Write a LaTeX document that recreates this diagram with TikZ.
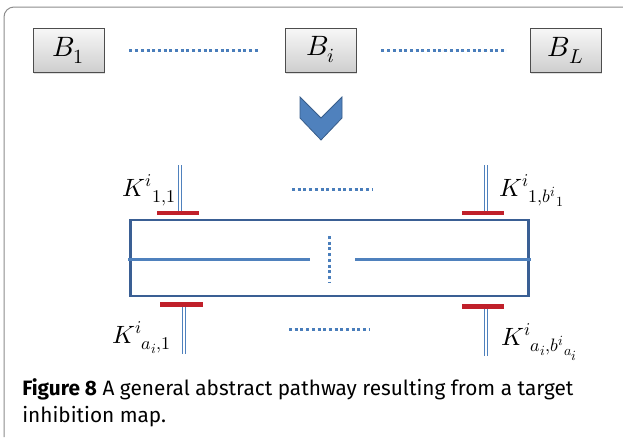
\documentclass[tikz,border=0pt]{standalone}
\usepackage{fontspec}
\usepackage{unicode-math}
\setmathfont{Latin Modern Math}
\setsansfont{Fira Sans}
\usetikzlibrary{shadows}
\DeclareMathSizes{28}{28}{20}{15}
\DeclareMathSizes{25}{25}{18}{14}
\definecolor{framegray}{HTML}{8C8C8C}
\definecolor{boxgray}{HTML}{4D4D4D}
\definecolor{dotblue}{HTML}{4A7EBB}
\definecolor{lineblue}{HTML}{4F81BD}
\definecolor{rectblue}{HTML}{3A5F94}
\definecolor{inhred}{HTML}{C0202A}
\definecolor{chevedge}{HTML}{385D8A}
\begin{document}
\begin{tikzpicture}[x=1pt,y=-1pt,line width=0.6pt,
  bbox/.style={draw=boxgray,line width=0.8pt,top color=gray!6,bottom color=gray!38,
    minimum width=71pt,minimum height=44pt,inner sep=0pt,
    font=\fontsize{28}{30}\selectfont,
    drop shadow={shadow xshift=1.2pt,shadow yshift=-1.5pt,opacity=0.25}},
  dots/.style={draw=dotblue,line width=3pt,dash pattern=on 3pt off 2.7pt},
  stem/.style={draw=lineblue,line width=1.2pt,double=white,double distance=2pt},
  bar/.style={draw=inhred,line width=4.5pt},
  klabel/.style={inner sep=0pt,font=\fontsize{25}{28}\selectfont}]
  \useasboundingbox (0,0) rectangle (623,437);

  % 外框
  \draw[framegray,line width=1pt,rounded corners=10pt] (4,437) -- (4,7) -- (623,7);

  % 上方的 B 方块
  \node[bbox] (B1) at (68.5,50) {$B_1$};
  \node[bbox] (Bi) at (320.5,50) {$B_i$};
  \node[bbox] (BL) at (565.5,50) {$B_L$};
  \draw[dots,shorten <=25pt,shorten >=25pt] (B1) -- (Bi);
  \draw[dots,shorten <=25pt,shorten >=23pt] (Bi) -- (BL);

  % 箭头
  \draw[chevedge,fill=lineblue,line width=0.8pt]
    (300,97) -- (321,118) -- (342,97) -- (342,118) -- (321,140) -- (300,118) -- cycle;

  % 通路矩形
  \node[draw=rectblue,line width=2.5pt,minimum width=398pt,minimum height=76pt,
    inner sep=0pt] (pw) at (329.5,258) {};
  \coordinate (mL) at (128,259);
  \coordinate (mR) at (531,259);
  \coordinate (gL) at (310,259);
  \coordinate (gR) at (355,259);
  \draw[lineblue,line width=3pt] (mL) -- (gL);
  \draw[lineblue,line width=3pt] (gR) -- (mR);
  \draw[dots] (329.5,236) -- (329.5,282);

  % 上方的抑制
  \coordinate (t1) at (180,165);
  \coordinate (r1) at (180,213);
  \coordinate (t2) at (486,165);
  \coordinate (r2) at (486,213);
  \draw[stem] (t1) -- (r1);
  \draw[stem] (t2) -- (r2);
  \draw[bar] ([xshift=-23pt]r1) -- ([xshift=19pt]r1);
  \draw[bar] ([xshift=-24pt]r2) -- ([xshift=18pt]r2);
  \draw[dots] (292,189) -- (372,189);
  \node[klabel,anchor=base east] (k11) at (176,196) {${K^{i}}_{1,1}$};
  \node[klabel,anchor=base west] (k1b) at (499,196) {${K^{i}}_{1,{b^{i}}_{1}}$};

  % 下方的抑制
  \coordinate (r3) at (184,304.5);
  \coordinate (t3) at (184,354);
  \coordinate (r4) at (486,306.5);
  \coordinate (t4) at (486,356);
  \draw[stem] (t3) -- (r3);
  \draw[stem] (t4) -- (r4);
  \draw[bar] ([xshift=-24pt]r3) -- ([xshift=19pt]r3);
  \draw[bar] ([xshift=-24pt]r4) -- ([xshift=18pt]r4);
  \draw[dots] (289,329) -- (369,329);
  \node[klabel,anchor=base west] (ka1) at (112,343) {${K^{i}}_{a_i,1}$};
  \node[klabel,anchor=base west] (kab) at (501,345) {${K^{i}}_{a_i,{b^{i}}_{a_i}}$};

  % 图题
  \node[anchor=base west,align=left,inner sep=0pt,font=\sffamily\fontsize{20.8}{27}\selectfont]
    (cap) at (22,422) {\textbf{Figure 8} A general abstract pathway resulting from a target\\
    inhibition map.};
\end{tikzpicture}
\end{document}
